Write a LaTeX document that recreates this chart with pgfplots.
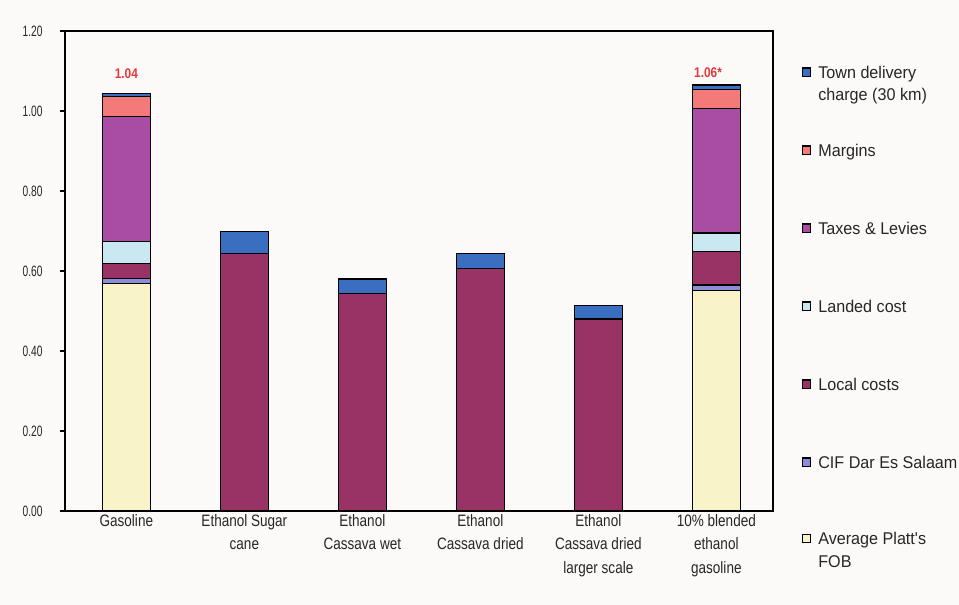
\documentclass[border=0pt]{standalone}
\usepackage{pgfplots}
\pgfplotsset{compat=1.18}
\usepackage{pgfplotstable}
\usepackage{fontspec}
\setmainfont{Liberation Sans}
\newfontfamily\tickfont[FakeStretch=0.68]{Liberation Sans}
\newfontfamily\catfont[FakeStretch=0.82]{Liberation Sans}
\newfontfamily\legfont[FakeStretch=0.95]{Liberation Sans}
\newfontfamily\lblfont[FakeStretch=0.85]{Liberation Sans}
\definecolor{bgcol}{HTML}{FCFAF8}
\definecolor{txtcol}{HTML}{262626}
\definecolor{cfob}{HTML}{F9F4C8}
\definecolor{ccif}{HTML}{8C8CD8}
\definecolor{clocal}{HTML}{993366}
\definecolor{clanded}{HTML}{C9E8F2}
\definecolor{ctaxes}{HTML}{A84DA3}
\definecolor{cmargins}{HTML}{F47A7A}
\definecolor{ctown}{HTML}{3A6EC0}
\definecolor{lblred}{HTML}{E03A3A}
\pgfplotstableread{
x fob cif local landed taxes margins town
0 0.569 0.013 0.037 0.054 0.313 0.050 0.008
1 0 0 0.644 0 0 0 0.054
2 0 0 0.544 0 0 0 0.036
3 0 0 0.607 0 0 0 0.037
4 0 0 0.480 0 0 0 0.034
5 0.552 0.013 0.083 0.047 0.312 0.047 0.011
}\datatable
\begin{document}
\begin{tikzpicture}
\useasboundingbox (-65bp,-94bp) rectangle (894bp,511bp);
\fill[bgcol] (-65bp,-94bp) rectangle (894bp,511bp);
\begin{axis}[
  at={(0,0)}, anchor=south west,
  scale only axis, width=708bp, height=480bp,
  ybar stacked, bar width=48bp,
  xmin=-0.52, xmax=5.48, ymin=0, ymax=1.2,
  xtick={0,1,2,3,4,5},
  xticklabels={Gasoline,{Ethanol Sugar\\cane},{Ethanol\\Cassava wet},{Ethanol\\Cassava dried},{Ethanol\\Cassava dried\\larger scale},{10\% blended\\ethanol\\gasoline}},
  xticklabel style={font=\catfont\fontsize{16.5bp}{23.5bp}\selectfont, align=center, text=txtcol, yshift=5bp},
  ytick={0,0.2,0.4,0.6,0.8,1.0,1.2},
  /pgf/number format/assume math mode=true,
  yticklabel style={/pgf/number format/fixed, /pgf/number format/fixed zerofill, /pgf/number format/precision=2, font=\tickfont\fontsize{15bp}{17bp}\selectfont, text=txtcol, xshift=-14bp},
  axis line style={line width=1.5bp, black},
  tick align=outside, major tick length=5bp,
  xtick style={draw=none},
  ytick style={line width=1.2bp, black},
  ytick pos=left,
  every axis plot/.append style={draw=black, line width=1.3bp},
  reverse legend,
  legend image code/.code={\path (0bp,2bp) rectangle (8bp,10bp);\draw[#1, line width=0.9bp, overlay] (0bp,2bp) rectangle (8bp,10bp);},
  legend style={at={(1.041,0.927)}, anchor=north west, draw=none, fill=none,
    inner sep=0pt, outer sep=0pt, row sep=66bp, column sep=7bp,
    font=\legfont\fontsize{17bp}{22.5bp}\selectfont, text=txtcol,
    nodes={inner sep=0pt, text height=12bp, text depth=0bp},
    cells={anchor=base west}},
]
\addplot[fill=cfob, legend image post style={yshift=11bp}] table[x=x,y=fob]{\datatable};
\addlegendentry{\raisebox{11bp}{\vtop{\hbox{Average Platt's}\hbox{FOB}}}}
\addplot[fill=ccif] table[x=x,y=cif]{\datatable};
\addlegendentry{CIF Dar Es Salaam}
\addplot[fill=clocal] table[x=x,y=local]{\datatable};
\addlegendentry{Local costs}
\addplot[fill=clanded] table[x=x,y=landed]{\datatable};
\addlegendentry{Landed cost}
\addplot[fill=ctaxes] table[x=x,y=taxes]{\datatable};
\addlegendentry{Taxes \& Levies}
\addplot[fill=cmargins] table[x=x,y=margins]{\datatable};
\addlegendentry{Margins}
\addplot[fill=ctown] table[x=x,y=town]{\datatable};
\addlegendentry{\vtop{\hbox{Town delivery}\hbox{charge (30 km)}}}
\node[font=\lblfont\bfseries\fontsize{14bp}{16bp}\selectfont, text=lblred] at (axis cs:0,1.0925) {1.04};
\node[font=\lblfont\bfseries\fontsize{14bp}{16bp}\selectfont, text=lblred] at (axis cs:4.93,1.097) {1.06*};
\end{axis}
\end{tikzpicture}
\end{document}
